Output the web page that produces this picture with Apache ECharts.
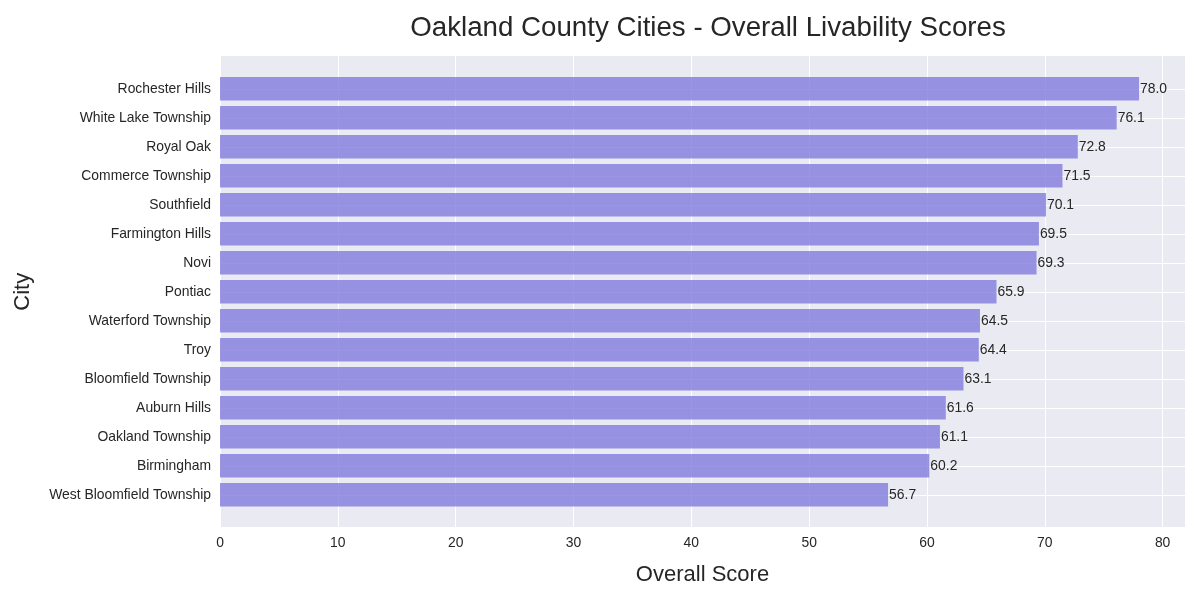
<!DOCTYPE html>
<html><head><meta charset="utf-8">
<script src="https://cdn.jsdelivr.net/npm/echarts@6/dist/echarts.min.js"></script>
<style>html,body{margin:0;padding:0;background:#fff}#c{width:1200px;height:600px}</style>
</head><body><div id="c"></div>
<script>
const cities = ["Rochester Hills","White Lake Township","Royal Oak","Commerce Township","Southfield","Farmington Hills","Novi","Pontiac","Waterford Township","Troy","Bloomfield Township","Auburn Hills","Oakland Township","Birmingham","West Bloomfield Township"];
const scores = [78.0,76.1,72.8,71.5,70.1,69.5,69.3,65.9,64.5,64.4,63.1,61.6,61.1,60.2,56.7];
const xTicks = [0,10,20,30,40,50,60,70,80];

const FONT = "Liberation Sans, Arial, sans-serif";
const TXT = "#262626";
const chart = echarts.init(document.getElementById('c'));
chart.setOption({
  animation: false,
  title: {text: "Oakland County Cities - Overall Livability Scores", left: 703, top: 9, textAlign: 'center',
    textStyle: {fontFamily: FONT, fontSize: 27.7, fontWeight: 'normal', color: TXT}},
  grid: [
    {left: 220, right: 15, top: 56, bottom: 73, show: true, backgroundColor: '#EAEAF2', borderWidth: 0, containLabel: false},
    {left: 220, right: 15, top: 88.8, height: 406, containLabel: false}
  ],
  xAxis: [
    {gridIndex: 0, type: 'value', min: 0, max: 81.9, interval: 10,
      name: 'Overall Score', nameLocation: 'middle', nameGap: 37,
      nameTextStyle: {fontFamily: FONT, fontSize: 22, color: TXT},
      axisLine: {show: false}, axisTick: {show: false},
      axisLabel: {fontFamily: FONT, fontSize: 13.9, color: TXT, margin: 9,
        formatter: v => xTicks.includes(v) ? String(v) : ''},
      splitLine: {show: true, lineStyle: {color: '#ffffff', width: 1}}},
    {gridIndex: 1, type: 'value', min: 0, max: 81.9, show: false, splitLine: {show: false}}
  ],
  yAxis: [
    {gridIndex: 0, type: 'value', show: false, splitLine: {show: false}},
    {gridIndex: 1, type: 'category', data: cities, inverse: true, boundaryGap: false,
      name: 'City', nameLocation: 'middle', nameGap: 186, nameRotate: 90,
      nameTextStyle: {fontFamily: FONT, fontSize: 22, color: TXT},
      axisLine: {show: false}, axisTick: {show: false},
      axisLabel: {fontFamily: FONT, fontSize: 13.9, color: TXT, margin: 9},
      splitLine: {show: true, lineStyle: {color: '#ffffff', width: 1}}}
  ],
  series: [{
    type: 'bar', xAxisIndex: 1, yAxisIndex: 1, data: scores, barWidth: 23.5, clip: false,
    itemStyle: {color: 'rgba(130,123,221,0.8)'},
    label: {show: true, position: 'right', distance: 1, formatter: p => p.value.toFixed(1),
      fontFamily: FONT, fontSize: 13.9, color: TXT}
  }]
});
</script></body></html>
